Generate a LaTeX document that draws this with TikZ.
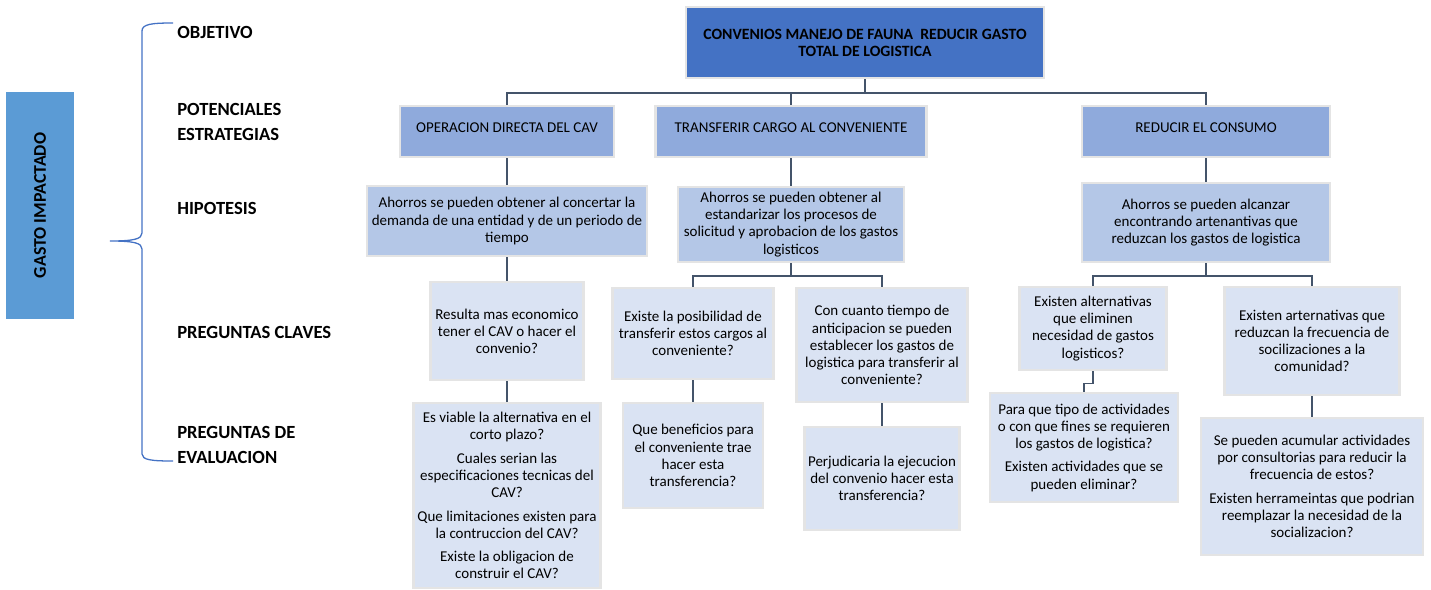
\documentclass[tikz,border=0pt]{standalone}
\usepackage{fontspec}
\setmainfont{Carlito}
\usepackage{tikz}

\definecolor{topfill}{HTML}{4472C4}
\definecolor{estfill}{HTML}{8FAADC}
\definecolor{hipfill}{HTML}{B4C7E7}
\definecolor{pregfill}{HTML}{DAE3F3}
\definecolor{gastofill}{HTML}{5B9BD5}
\definecolor{bordegris}{HTML}{E4E4E4}
\definecolor{lineacon}{HTML}{44546A}
\definecolor{llave}{HTML}{4472C4}

\begin{document}
\begin{tikzpicture}[x=0.7pt,y=-0.7pt,
    caja/.style={draw=bordegris, line width=1.8pt, align=center, inner sep=1pt,
                 font=\fontsize{10.5}{12}\selectfont},
    conn/.style={draw=lineacon, line width=1pt},
    etiqueta/.style={anchor=west, align=left, inner sep=0pt,
                     font=\bfseries\fontsize{13}{17.5}\selectfont}]

        \useasboundingbox (0,0) rectangle (1431,589);

        % lado izquierdo
        \node[fill=gastofill, rotate=90, minimum width=158.9pt, minimum height=47.6pt,
              font=\bfseries\fontsize{12.5}{14}\selectfont] (gasto) at (40,205.5) {GASTO IMPACTADO};

        \draw[draw=llave, line width=0.9pt] (173,23) .. controls (152,23) and (142,24) .. (142,31)
              -- (142,233) .. controls (142,239) and (134,241) .. (110,241)
              .. controls (134,241) and (142,243) .. (142,249)
              -- (142,454) .. controls (142,460) and (152,461) .. (173,461);

        \node[etiqueta] (lobj) at (177,32)    {OBJETIVO};
        \node[etiqueta] (lest) at (177,121.5) {POTENCIALES\\ESTRATEGIAS};
        \node[etiqueta] (lhip) at (177,208)   {HIPOTESIS};
        \node[etiqueta] (lpc)  at (177,332)   {PREGUNTAS CLAVES};
        \node[etiqueta] (lpe)  at (177,445)   {PREGUNTAS DE\\EVALUACION};

        % objetivo
        \node[caja, fill=topfill, minimum width=250.6pt, minimum height=49.7pt,
              font=\bfseries\fontsize{11}{12}\selectfont] (obj) at (865,42.5)
              {CONVENIOS MANEJO DE FAUNA \ REDUCIR GASTO\\TOTAL DE LOGISTICA};

        % estrategias
        \begin{scope}[every node/.style={caja, fill=estfill, minimum height=35.7pt,
                                         text height=7.5pt, text depth=6pt}]
          \node[minimum width=149.8pt] (est1) at (507,131.5)  {OPERACION DIRECTA DEL CAV};
          \node[minimum width=189.7pt] (est2) at (791,131.5)  {TRANSFERIR CARGO AL CONVENIENTE};
          \node[minimum width=173.6pt] (est3) at (1206,131.5) {REDUCIR EL CONSUMO};
        \end{scope}

        % hipotesis
        \begin{scope}[every node/.style={caja, fill=hipfill}]
          \node[minimum width=196pt, minimum height=49pt] (hip1) at (507,221)
            {Ahorros se pueden obtener al concertar la\\demanda de una entidad y de un periodo de\\tiempo};
          \node[minimum width=158.2pt, minimum height=52.5pt] (hip2) at (791,224.5)
            {Ahorros se pueden obtener al\\estandarizar los procesos de\\solicitud y aprobacion de los gastos\\logisticos};
          \node[minimum width=173.6pt, minimum height=55.3pt] (hip3) at (1206,222.5)
            {Ahorros se pueden alcanzar\\encontrando artenantivas que\\reduzcan los gastos de logistica};
        \end{scope}

        % preguntas claves y de evaluacion
        \begin{scope}[every node/.style={caja, fill=pregfill}]
          \node[minimum width=107.1pt, minimum height=68.6pt] (pc1) at (507,331)
            {Resulta mas economico\\tener el CAV o hacer el\\convenio?};
          \node[minimum width=112.7pt, minimum height=63.7pt] (pc2) at (693,333.5)
            {Existe la posibilidad de\\transferir estos cargos al\\conveniente?};
          \node[minimum width=119.7pt, minimum height=79.8pt] (pc3) at (882,345)
            {Con cuanto tiempo de\\anticipacion se pueden\\establecer los gastos de\\logistica para transferir al\\conveniente?};
          \node[minimum width=102.9pt, minimum height=58.1pt] (pc4) at (1093,328.5)
            {Existen alternativas\\que eliminen\\necesidad de gastos\\logisticos?};
          \node[minimum width=122.5pt, minimum height=75.6pt] (pc5) at (1312,341)
            {Existen arternativas que\\reduzcan la frecuencia de\\socilizaciones a la\\comunidad?};

          \node[minimum width=130.9pt, minimum height=129.5pt] (pe1) at (507,495.5)
            {Es viable la alternativa en el\\corto plazo?\\[4.5pt]Cuales serian las\\especificaciones tecnicas del\\CAV?\\[4.5pt]Que limitaciones existen para\\la contruccion del CAV?\\[4.5pt]Existe la obligacion de\\construir el CAV?};
          \node[minimum width=98pt, minimum height=73.5pt] (pe2) at (693,455.5)
            {Que beneficios para\\el conveniente trae\\hacer esta\\transferencia?};
          \node[minimum width=108.5pt, minimum height=72.1pt] (pe3) at (882,478.5)
            {Perjudicaria la ejecucion\\del convenio hacer esta\\transferencia?};
          \node[minimum width=131.6pt, minimum height=76.3pt] (pe4) at (1084,447.5)
            {Para que tipo de actividades\\o con que fines se requieren\\los gastos de logistica?\\[4.5pt]Existen actividades que se\\pueden eliminar?};
          \node[minimum width=155.4pt, minimum height=95.9pt] (pe5) at (1312,486.5)
            {Se pueden acumular actividades\\por consultorias para reducir la\\frecuencia de estos?\\[4.5pt]Existen herrameintas que podrian\\reemplazar la necesidad de la\\socializacion?};
        \end{scope}

        % conectores
        \coordinate (b1) at (865,93);
        \coordinate (b2) at (791,276);
        \coordinate (b3) at (1206,276);

        \draw[conn] (obj.south) -- (b1);
        \draw[conn] (est1.north) |- (b1);
        \draw[conn] (est2.north) |- (b1);
        \draw[conn] (est3.north) |- (b1);

        \draw[conn] (est1.south) -- (hip1.north);
        \draw[conn] (est2.south) -- (hip2.north);
        \draw[conn] (est3.south) -- (hip3.north);

        \draw[conn] (hip1.south) -- (pc1.north);
        \draw[conn] (hip2.south) -- (b2);
        \draw[conn] (pc2.north) |- (b2);
        \draw[conn] (pc3.north) |- (b2);
        \draw[conn] (hip3.south) -- (b3);
        \draw[conn] (pc4.north) |- (b3);
        \draw[conn] (pc5.north) |- (b3);

        \draw[conn] (pc1.south) -- (pe1.north);
        \draw[conn] (pc2.south) -- (pe2.north);
        \draw[conn] (pc3.south) -- (pe3.north);
        \draw[conn] (pc4.south) -- ++(0,12) -| (pe4.north);
        \draw[conn] (pc5.south) -- (pe5.north);

      \end{tikzpicture}
\end{document}
